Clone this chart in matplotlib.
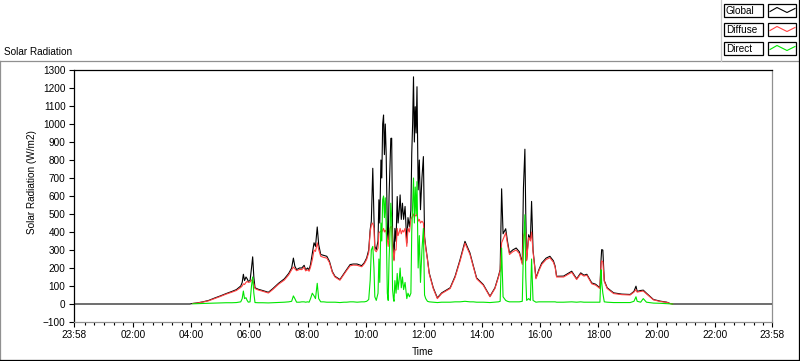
import numpy as np
import matplotlib.pyplot as plt
from matplotlib.lines import Line2D
from matplotlib.patches import Rectangle

plt.rcParams['font.family'] = ['Liberation Sans', 'DejaVu Sans']

# time of day in hours (23:58 of the previous day = -2/60)
time_h = [
    -0.033, 3.95, 4.05, 4.2, 4.4, 4.6, 4.8, 5.0, 5.2, 5.4,
    5.55, 5.7, 5.75, 5.79, 5.83, 5.88, 5.92, 5.96, 6.02, 6.07,
    6.11, 6.15, 6.19, 6.3, 6.45, 6.65, 6.8, 7.0, 7.2, 7.35,
    7.45, 7.51, 7.56, 7.62, 7.72, 7.8, 7.88, 7.93, 8.0, 8.05,
    8.1, 8.16, 8.22, 8.27, 8.33, 8.38, 8.45, 8.55, 8.66, 8.75,
    8.85, 8.94, 9.11, 9.25, 9.34, 9.46, 9.57, 9.7, 9.86, 9.95,
    10.03, 10.1, 10.15, 10.19, 10.24, 10.28, 10.31, 10.36, 10.42, 10.45,
    10.48, 10.52, 10.55, 10.58, 10.61, 10.64, 10.67, 10.70, 10.74, 10.77,
    10.80, 10.83, 10.86, 10.89, 10.92, 10.95, 10.97, 11.00, 11.04, 11.08,
    11.11, 11.15, 11.18, 11.22, 11.26, 11.30, 11.35, 11.41, 11.45, 11.50,
    11.55, 11.58, 11.61, 11.64, 11.67, 11.70, 11.73, 11.76, 11.80, 11.84,
    11.88, 11.93, 11.98, 12.02, 12.06, 12.12, 12.18, 12.32, 12.46, 12.61,
    12.9, 13.07, 13.24, 13.41, 13.58, 13.7, 13.81, 14.04, 14.27, 14.44,
    14.56, 14.62, 14.67, 14.72, 14.81, 14.87, 14.94, 15.05, 15.17, 15.28,
    15.38, 15.42, 15.47, 15.5, 15.53, 15.6, 15.66, 15.7, 15.75, 15.85,
    15.95, 16.05, 16.2, 16.33, 16.45, 16.51, 16.56, 16.8, 17.08, 17.25,
    17.39, 17.5, 17.6, 17.77, 17.9, 18.05, 18.09, 18.11, 18.15, 18.2,
    18.3, 18.52, 18.8, 19.09, 19.22, 19.29, 19.33, 19.45, 19.54, 19.65,
    19.89, 20.12, 20.35, 20.45, 20.55, 23.967,
]

global_wm2 = [
    0, 0, 3, 6, 12, 20, 33, 45, 58, 70,
    80, 100, 120, 165, 130, 150, 140, 126, 130, 200,
    262, 150, 90, 82, 75, 65, 85, 115, 140, 170,
    200, 255, 210, 191, 200, 200, 215, 190, 200, 190,
    220, 280, 340, 320, 428, 330, 275, 270, 265, 237,
    180, 154, 136, 170, 191, 219, 222, 222, 213, 230,
    256, 300, 413, 460, 754, 480, 320, 302, 350, 579,
    450, 800, 700, 1000, 1050, 830, 1000, 838, 420, 357,
    600, 763, 920, 921, 394, 300, 246, 420, 348, 597,
    450, 524, 606, 470, 560, 470, 542, 339, 480, 430,
    520, 838, 1000, 1262, 900, 1096, 950, 1207, 634, 800,
    524, 700, 819, 376, 320, 250, 173, 90, 34, 62,
    90, 154, 246, 348, 284, 210, 145, 108, 43, 90,
    154, 191, 640, 390, 418, 350, 284, 300, 311, 290,
    228, 644, 860, 500, 246, 385, 360, 570, 300, 145,
    190, 228, 255, 265, 240, 210, 154, 155, 182, 140,
    173, 160, 165, 117, 110, 90, 250, 302, 300, 130,
    90, 62, 55, 53, 70, 99, 70, 75, 77, 60,
    25, 16, 10, 3, 0, 0,
]

diffuse_wm2 = [
    np.nan, np.nan, 3, 5, 11, 18, 30, 42, 55, 66,
    75, 92, 100, 112, 108, 120, 126, 120, 122, 132,
    135, 112, 86, 78, 71, 61, 80, 110, 133, 162,
    190, 205, 196, 185, 192, 191, 205, 184, 190, 182,
    205, 245, 300, 292, 340, 302, 265, 259, 255, 230,
    175, 150, 132, 165, 186, 212, 216, 215, 207, 224,
    248, 285, 400, 440, 450, 420, 300, 290, 310, 395,
    400, 405, 400, 410, 420, 400, 410, 400, 360, 320,
    380, 420, 430, 430, 330, 280, 240, 300, 300, 420,
    380, 400, 420, 390, 410, 400, 420, 320, 420, 400,
    470, 480, 490, 500, 480, 495, 490, 500, 460, 470,
    450, 460, 450, 360, 310, 245, 168, 85, 30, 58,
    86, 148, 238, 338, 276, 204, 140, 104, 40, 86,
    148, 185, 340, 360, 395, 335, 275, 290, 300, 280,
    220, 380, 400, 390, 240, 370, 350, 400, 290, 140,
    184, 220, 247, 257, 232, 204, 150, 150, 176, 136,
    167, 155, 160, 112, 105, 86, 220, 240, 235, 125,
    86, 58, 52, 50, 66, 80, 66, 70, 72, 56,
    23, 14, 9, 3, 0, np.nan,
]

direct_wm2 = [
    np.nan, np.nan, 1, 2, 3, 4, 5, 6, 7, 7,
    8, 12, 30, 72, 30, 35, 20, 10, 12, 100,
    150, 60, 8, 7, 7, 6, 7, 8, 10, 12,
    15, 45, 30, 10, 10, 12, 12, 10, 12, 10,
    30, 60, 45, 30, 115, 30, 12, 12, 10, 10,
    10, 10, 8, 10, 10, 12, 12, 10, 12, 12,
    15, 25, 130, 300, 320, 200, 40, 20, 60, 250,
    120, 450, 350, 580, 600, 480, 590, 450, 60, 20,
    250, 380, 560, 480, 80, 30, 15, 130, 60, 170,
    80, 140, 200, 90, 150, 80, 120, 30, 60, 40,
    60, 400, 550, 700, 450, 650, 500, 680, 200, 380,
    120, 300, 420, 50, 30, 15, 12, 10, 8, 10,
    10, 12, 12, 15, 12, 12, 10, 10, 8, 10,
    12, 15, 311, 40, 20, 15, 12, 12, 12, 12,
    15, 300, 496, 150, 20, 30, 20, 250, 20, 10,
    12, 12, 12, 12, 12, 12, 10, 10, 12, 10,
    12, 10, 10, 10, 10, 10, 190, 120, 60, 12,
    10, 8, 8, 8, 15, 40, 15, 10, 30, 10,
    5, 4, 2, 1, 0, np.nan,
]

major_ticks = [-2 / 60] + list(range(2, 23, 2)) + [24 - 2 / 60]
major_labels = ['23:58'] + ['%02d:00' % h for h in range(2, 23, 2)] + ['23:58']
y_ticks = list(range(-100, 1301, 100))

W, H = 800, 361


def fx(x):
    return x / W


def fy(y):
    return 1 - y / H


fig = plt.figure(figsize=(8, 3.61), dpi=100)
ax = fig.add_axes([fx(74), fy(322), (772 - 74) / W, (322 - 70) / H])

ax.plot(time_h, global_wm2, color='black', lw=0.8, zorder=3)
ax.plot(time_h, diffuse_wm2, color='#ff4040', lw=0.8, zorder=4)
ax.plot(time_h, direct_wm2, color='#00e600', lw=0.8, zorder=5)

ax.set_xlim(-2 / 60, 24 - 2 / 60)
ax.set_ylim(-100, 1300)
ax.set_yticks(y_ticks)
ax.set_xticks(major_ticks)
ax.set_xticklabels(major_labels)
minor = [m for m in np.arange(0, 24, 1 / 3) if min(abs(m - t) for t in major_ticks) > 0.05]
ax.set_xticks(minor, minor=True)

ax.tick_params(axis='both', which='major', direction='out', length=3.6, width=0.8,
               labelsize=7.2, pad=2.5, colors='black')
ax.tick_params(axis='x', which='minor', direction='out', length=2.2, width=0.8)

for side in ['top', 'left']:
    ax.spines[side].set_color('black')
    ax.spines[side].set_linewidth(0.9)
for side in ['right', 'bottom']:
    ax.spines[side].set_color('#909090')
    ax.spines[side].set_linewidth(0.9)

# labels
fig.text(fx(4), fy(52), 'Solar Radiation', ha='left', va='center', fontsize=7.2)
fig.text(fx(32), fy(182), 'Solar Radiation (W/m2)', rotation=90,
         ha='center', va='center', fontsize=7.2)
fig.text(fx(423), fy(352), 'Time', ha='center', va='center', fontsize=7.2)

# outer panel frame
frame = [
    ((0, 799), (61, 61), '#909090'),
    ((0, 0), (61, 360), '#909090'),
    ((0, 799), (360, 360), 'black'),
    ((799, 799), (0, 360), 'black'),
    ((721, 721), (0, 61), '#c8c8c8'),
]
for xs, ys, c in frame:
    fig.add_artist(Line2D([fx(v) for v in xs], [fy(v) for v in ys],
                          transform=fig.transFigure, color=c, lw=0.9))

# legend
names = ['Global', 'Diffuse', 'Direct']
colors = ['black', '#ff4040', '#00e600']
for i, (name, c) in enumerate(zip(names, colors)):
    top = 4 + i * 19
    fig.add_artist(Rectangle((fx(724), fy(top + 13)), 39 / W, 13 / H,
                             transform=fig.transFigure, fill=False,
                             edgecolor='black', lw=0.9))
    fig.add_artist(Rectangle((fx(768), fy(top + 13)), 28 / W, 13 / H,
                             transform=fig.transFigure, fill=False,
                             edgecolor='black', lw=0.9))
    fig.text(fx(726), fy(top + 7), name, ha='left', va='center', fontsize=7.2)
    zx = [770, 777, 787, 795]
    zy = [top + 7.5, top + 3.5, top + 8.5, top + 4.5]
    fig.add_artist(Line2D([fx(v) for v in zx], [fy(v) for v in zy],
                          transform=fig.transFigure, color=c, lw=0.8))

fig.savefig('out.png', dpi=100)
